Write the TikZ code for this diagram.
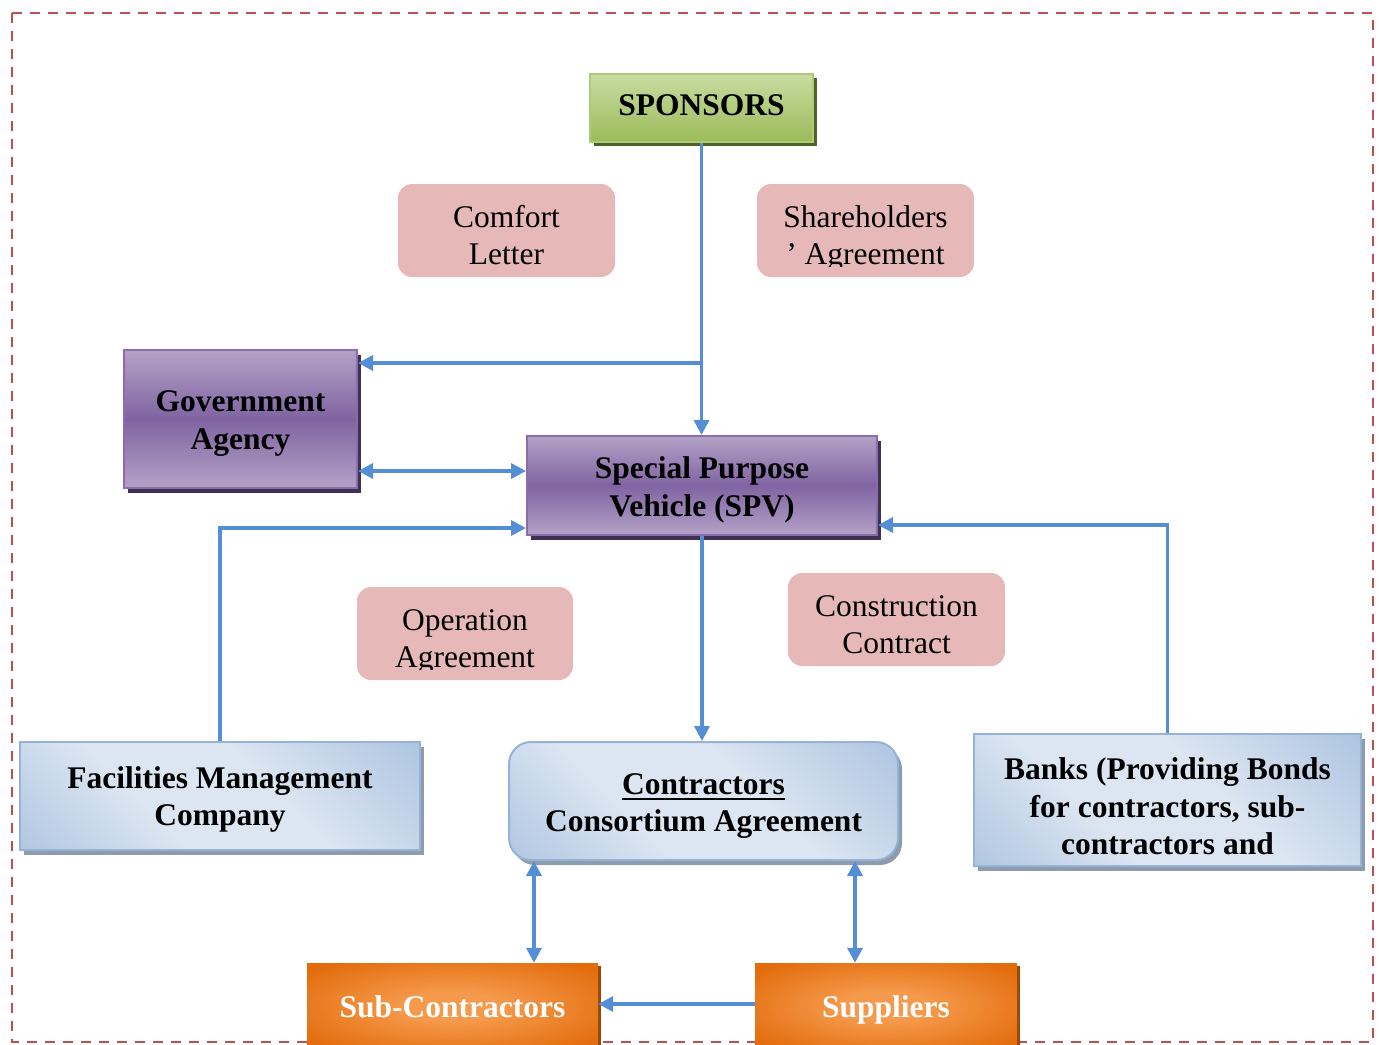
\documentclass[tikz,border=0pt]{standalone}
\usepackage{fontspec}
\setmainfont{Liberation Serif}
\usetikzlibrary{arrows.meta,shadows}

\definecolor{frameRed}{HTML}{C0504D}
\definecolor{linkBlue}{HTML}{558ED5}
\definecolor{notePink}{HTML}{E6B9B8}
\definecolor{gL}{HTML}{C8DCA2}
\definecolor{gD}{HTML}{9BBB59}
\definecolor{gB}{HTML}{AFCB78}
\definecolor{gS}{HTML}{4F6228}
\definecolor{pL}{HTML}{B3A2C7}
\definecolor{pD}{HTML}{8064A2}
\definecolor{pB}{HTML}{8A6DAE}
\definecolor{pS}{HTML}{3F3151}
\definecolor{bL}{HTML}{DCE6F2}
\definecolor{bD}{HTML}{95B3D7}
\definecolor{bS}{HTML}{8E9BAC}
\definecolor{oL}{HTML}{F59A4C}
\definecolor{oD}{HTML}{E36C0C}
\definecolor{oS}{HTML}{984807}

\pgfdeclarehorizontalshading{bluesheen}{100bp}{color(0bp)=(bD); color(38bp)=(bL); color(58bp)=(bL); color(100bp)=(bD)}
\pgfdeclareradialshading{orangeglow}{\pgfpoint{0bp}{0bp}}{color(0bp)=(oL); color(8bp)=(oL); color(32bp)=(oD); color(50bp)=(oD)}

\newcommand{\diagfont}{\fontsize{31.5}{37.5}\selectfont}
% heavy underline that leaves the line spacing alone
\newsavebox{\ulbox}
\newcommand{\heavyul}[1]{\sbox{\ulbox}{#1}\rlap{\rule[-6pt]{\wd\ulbox}{2.4pt}}\usebox{\ulbox}}
% extra room above the first line, pushing a text block down by half of it
\newcommand{\dn}[1]{\rule{0pt}{\dimexpr0.7\baselineskip+#1\relax}}

\begin{document}
\begin{tikzpicture}[x=1pt,y=-1pt,
  every node/.style={align=center, inner sep=0pt, font=\diagfont},
  boldtext/.style={font=\diagfont\bfseries},
  greenbox/.style={boldtext, rectangle, draw=gB, line width=2pt,
    top color=gL, bottom color=gD,
    general shadow={shadow xshift=4pt, shadow yshift=-4pt, fill=gS}},
  purplebox/.style={boldtext, rectangle, draw=pB, line width=2pt,
    top color=pL, bottom color=pL, middle color=pD,
    general shadow={shadow xshift=4pt, shadow yshift=-5pt, fill=pS}},
  bluebox/.style={boldtext, rectangle, draw=bD, line width=2pt,
    shading=bluesheen, shading angle=45,
    general shadow={shadow xshift=4pt, shadow yshift=-5pt, fill=bS}},
  orangebox/.style={boldtext, text=white, rectangle, shading=orangeglow,
    general shadow={shadow xshift=3pt, shadow yshift=-3pt, fill=oS}},
  notebox/.style={rectangle, rounded corners=14pt, fill=notePink,
    path picture={
      \clip (path picture bounding box.north west) rectangle
            ([yshift=11pt]path picture bounding box.south east);
      \node at ([yshift=-8pt]path picture bounding box.center) {#1};
    }},
  link/.style={draw=linkBlue, line width=3.5pt,
    arrows={-Triangle[length=15pt,width=15pt]}},
  link2/.style={link, arrows={Triangle[length=15pt,width=15pt]-Triangle[length=15pt,width=15pt]}}
]
\useasboundingbox (0,0) rectangle (1383,1044);

% dashed outer frame
\draw[frameRed, line width=2pt, dash pattern=on 10pt off 8pt] (12,13) rectangle (1373,1042);

% parties
\node[greenbox, minimum width=223pt, minimum height=68pt] (sp) at (701.5,108) {SPONSORS\strut};
\node[purplebox, minimum width=233pt, minimum height=138pt] (gov) at (240.5,419) {\dn{8pt}Government\strut\\Agency\strut};
\node[purplebox, minimum width=350pt, minimum height=99pt] (spv) at (702,485.5) {\dn{9pt}Special Purpose\strut\\Vehicle (SPV)\strut};
\node[bluebox, minimum width=400pt, minimum height=108pt] (fac) at (220,796) {\dn{7pt}Facilities Management\strut\\Company\strut};
\node[bluebox, rounded corners=22pt, minimum width=389pt, minimum height=118pt] (con) at (703.5,801) {\dn{9pt}\heavyul{Contractors}\strut\\Consortium Agreement\strut};
\node[bluebox, minimum width=387pt, minimum height=126pt] (bk) at (1167.5,800) {\dn{19pt}Banks (Providing Bonds\strut\\for contractors, sub-\strut\\contractors and\strut};
\node[orangebox, minimum width=291pt, minimum height=87pt] (sub) at (452.5,1006.5) {\dn{6pt}Sub-Contractors\strut};
\node[orangebox, minimum width=262pt, minimum height=87pt] (sup) at (886,1006.5) {\dn{6pt}Suppliers\strut};

% agreements
\node[notebox={Comfort\strut\\Letter\strut}, minimum width=217pt, minimum height=93pt] (cl) at (506.5,230.5) {};
\node[notebox={Shareholders\strut\\’ Agreement\strut}, minimum width=217pt, minimum height=93pt] (sh) at (865.5,230.5) {};
\node[notebox={Operation\strut\\Agreement\strut}, minimum width=216pt, minimum height=93pt] (op) at (465,633.5) {};
\node[notebox={Construction\strut\\Contract\strut}, minimum width=217pt, minimum height=93pt] (cc) at (896.5,619.5) {};

% connectors
\coordinate (branch) at (701.5,363);
\draw[link] (sp.south) -- (sp.south |- spv.north);
\draw[link] (branch) -- (gov.east |- branch);
\draw[link2] (gov.east |- 0,471) -- (spv.west |- 0,471);
\draw[link] (fac.north) |- (spv.west |- 0,528);
\draw[link] (bk.north) |- (spv.east |- 0,525);
\draw[link] (spv.south) -- (spv.south |- con.north);
\draw[link2] (con.south -| 534,0) -- (sub.north -| 534,0);
\draw[link2] (con.south -| 855,0) -- (sup.north -| 855,0);
\draw[link] (sup.west |- 0,1004) -- (sub.east |- 0,1004);
\end{tikzpicture}
\end{document}
